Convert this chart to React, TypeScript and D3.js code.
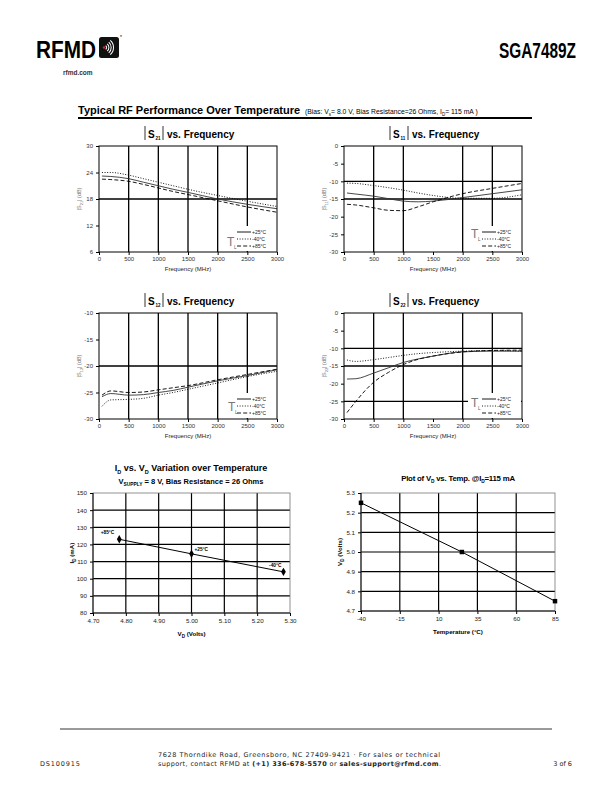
import React, { useRef, useEffect } from 'react';
import * as d3 from 'd3';

const FONT = '"Liberation Sans", Arial, sans-serif';

// S-parameter sweep (MHz) shared by every curve
const freqs = [50, 200, 500, 750, 1000, 1250, 1500, 2000, 2500, 3000];
const freqTicks = [0, 500, 1000, 1500, 2000, 2500, 3000];
const tempLabels = ['+25°C', '-40°C', '+85°C'];

const s21Plus25 = [23.2, 23.1, 22.6, 21.8, 21.0, 20.2, 19.5, 18.0, 16.8, 15.8];
const s21Minus40 = [24.0, 24.0, 23.4, 22.6, 21.8, 21.0, 20.2, 18.8, 17.5, 16.3];
const s21Plus85 = [22.5, 22.4, 22.0, 21.3, 20.5, 19.7, 19.0, 17.6, 16.2, 15.0];

const s11Plus25 = [-13.3, -13.6, -14.2, -14.9, -15.6, -15.8, -15.6, -14.6, -13.5, -12.4];
const s11Minus40 = [-10.5, -10.6, -11.2, -11.8, -12.5, -13.3, -14.0, -14.8, -14.8, -13.8];
const s11Plus85 = [-16.5, -16.7, -17.5, -18.2, -18.3, -17.2, -15.8, -13.5, -12.0, -10.6];

const s12Plus25 = [-25.8, -25.2, -25.5, -25.4, -25.0, -24.6, -24.0, -22.8, -21.8, -20.7];
const s12Minus40 = [-27.6, -26.4, -26.3, -26.1, -25.5, -25.0, -24.4, -23.2, -22.0, -21.0];
const s12Plus85 = [-25.5, -24.7, -25.0, -24.9, -24.5, -24.1, -23.7, -22.6, -21.6, -20.6];

const s22Plus25 = [-18.7, -18.6, -17.0, -15.5, -14.0, -13.0, -12.2, -11.0, -10.8, -10.8];
const s22Minus40 = [-13.3, -13.7, -13.2, -12.6, -12.0, -11.5, -11.2, -10.8, -10.6, -10.8];
const s22Plus85 = [-28.2, -25.0, -19.6, -16.8, -14.6, -13.1, -12.2, -11.0, -10.6, -10.5];

// ID vs VD
const vdVolts = [4.78, 5.0, 5.28];
const idMilliamps = [123, 114.5, 104];
const idPointLabels = ['+85°C', '+25°C', '-40°C'];
const vdTicks = [4.7, 4.8, 4.9, 5.0, 5.1, 5.2, 5.3];
const idTicks = [80, 90, 100, 110, 120, 130, 140, 150];

// VD vs temperature
const temps = [-40, 25, 85];
const vdAtTemp = [5.25, 5.0, 4.75];
const tempTicks = [-40, -15, 10, 35, 60, 85];
const vdTempTicks = [4.7, 4.8, 4.9, 5.0, 5.1, 5.2, 5.3];

const dashes = [null, '1,1.6', '4,2.2'];
const SW = 178, SH = 106;
const plain = d => String(d);

// text with subscripts: parts = [[text, isSub]]
const rich = (sel, parts, subSize) => {
  let down = false;
  parts.forEach(([t, sub]) => {
    const ts = sel.append('tspan').text(t);
    if (sub) {
      ts.attr('font-size', subSize);
      if (!down) { ts.attr('dy', subSize * 0.5); down = true; }
    } else if (down) {
      ts.attr('dy', -subSize * 0.5);
      down = false;
    }
  });
  return sel;
};

const styleAxis = (g, size, fill) => {
  g.select('.domain').remove();
  g.selectAll('line').attr('stroke', '#000');
  g.selectAll('text').attr('font-size', size).attr('font-family', FONT).attr('fill', fill);
};

const drawSChart = (svg, c) => {
  const g = svg.append('g');
  const x = d3.scaleLinear().domain([0, 3000]).range([c.x0, c.x0 + SW]);
  const y = d3.scaleLinear().domain(c.yDomain).range([c.y0 + SH, c.y0]);

  c.vGrid.forEach(v => g.append('line')
    .attr('x1', x(v)).attr('x2', x(v)).attr('y1', c.y0).attr('y2', c.y0 + SH)
    .attr('stroke', '#000').attr('stroke-width', 1.3));
  c.hGrid.forEach(v => g.append('line')
    .attr('x1', c.x0).attr('x2', c.x0 + SW).attr('y1', y(v)).attr('y2', y(v))
    .attr('stroke', '#000').attr('stroke-width', 1.3));

  g.append('g').attr('transform', `translate(${c.x0},0)`)
    .call(d3.axisLeft(y).tickValues(c.yTicks).tickFormat(plain).tickSize(3).tickPadding(3).tickSizeOuter(0))
    .call(a => styleAxis(a, 6, '#333'));
  g.append('g').attr('transform', `translate(0,${c.y0 + SH})`)
    .call(d3.axisBottom(x).tickValues(freqTicks).tickFormat(plain).tickSize(3).tickPadding(2).tickSizeOuter(0))
    .call(a => styleAxis(a, 6, '#333'));

  // legend box hides grid behind it
  g.append('rect').attr('x', c.x0 + 124).attr('y', c.y0 + 80).attr('width', SW - 125).attr('height', SH - 81)
    .attr('fill', '#fff');

  const line = d3.line().x((d, i) => x(freqs[i])).y(d => y(d)).curve(d3.curveMonotoneX);
  c.series.forEach((vals, i) => {
    g.append('path').datum(vals).attr('d', line).attr('fill', 'none')
      .attr('stroke', i === 0 ? '#333' : '#000').attr('stroke-width', 0.9)
      .attr('stroke-dasharray', dashes[i]);
  });

  g.append('rect').attr('x', c.x0).attr('y', c.y0).attr('width', SW).attr('height', SH)
    .attr('fill', 'none').attr('stroke', '#000').attr('stroke-width', 1);

  // legend
  const lg = g.append('g').attr('transform', `translate(${c.x0 + 126},${c.y0 + 86})`);
  lg.append('text').attr('x', c.tx).attr('y', c.ty).attr('font-size', 12).attr('font-family', FONT)
    .attr('fill', '#777').text('T');
  lg.append('text').attr('x', c.tx + 7).attr('y', c.ty + 3).attr('font-size', 4.5).attr('font-family', FONT)
    .attr('fill', '#555').text('L');
  tempLabels.forEach((t, i) => {
    lg.append('line').attr('x1', 12).attr('x2', 26).attr('y1', i * 7).attr('y2', i * 7)
      .attr('stroke', '#000').attr('stroke-width', 0.9).attr('stroke-dasharray', dashes[i]);
    lg.append('text').attr('x', 27).attr('y', i * 7 + 1.8).attr('font-size', 5).attr('font-family', FONT)
      .attr('fill', '#222').text(t);
  });

  // title |Sxx| vs. Frequency
  const cx = c.x0 + SW / 2;
  const ty = c.y0 - 8;
  [cx - 43, cx - 25].forEach(bx => g.append('line').attr('x1', bx).attr('x2', bx)
    .attr('y1', ty - 12).attr('y2', ty + 2).attr('stroke', '#000').attr('stroke-width', 0.8));
  g.append('text').attr('x', cx - 40).attr('y', ty).attr('font-size', 10).attr('font-weight', 'bold')
    .attr('font-family', FONT).text('S');
  g.append('text').attr('x', cx - 32.5).attr('y', ty + 2).attr('font-size', 4.5).attr('font-weight', 'bold')
    .attr('font-family', FONT).text(c.sub);
  g.append('text').attr('x', cx - 21).attr('y', ty).attr('font-size', 10).attr('font-weight', 'bold')
    .attr('font-family', FONT).text('vs. Frequency');

  // axis titles
  const yl = g.append('text').attr('transform', `translate(${c.x0 - 18},${c.y0 + SH / 2}) rotate(-90)`)
    .attr('text-anchor', 'middle').attr('font-size', 5.5).attr('font-family', FONT).attr('fill', '#777');
  rich(yl, [['|S', 0], [c.sub, 1], ['| (dB)', 0]], 4);
  g.append('text').attr('x', cx).attr('y', c.y0 + SH + 19).attr('text-anchor', 'middle')
    .attr('font-size', 6).attr('font-family', FONT).attr('fill', '#222').text('Frequency (MHz)');
};

const drawXY = (svg, c) => {
  const g = svg.append('g');
  const x = d3.scaleLinear().domain(c.xDomain).range([c.x0, c.x1]);
  const y = d3.scaleLinear().domain(c.yDomain).range([c.y1, c.y0]);

  c.xTicks.slice(1, -1).forEach(v => g.append('line')
    .attr('x1', x(v)).attr('x2', x(v)).attr('y1', c.y0).attr('y2', c.y1)
    .attr('stroke', '#000').attr('stroke-width', 1.2));
  c.yTicks.slice(1, -1).forEach(v => g.append('line')
    .attr('x1', c.x0).attr('x2', c.x1).attr('y1', y(v)).attr('y2', y(v))
    .attr('stroke', '#000').attr('stroke-width', 1.2));
  g.append('rect').attr('x', c.x0).attr('y', c.y0).attr('width', c.x1 - c.x0).attr('height', c.y1 - c.y0)
    .attr('fill', 'none').attr('stroke', '#777').attr('stroke-width', 0.8);

  g.append('g').attr('transform', `translate(${c.x0},0)`)
    .call(d3.axisLeft(y).tickValues(c.yTicks).tickFormat(c.yFmt).tickSize(3).tickPadding(3).tickSizeOuter(0))
    .call(a => styleAxis(a, 6.2, '#222'));
  g.append('g').attr('transform', `translate(0,${c.y1})`)
    .call(d3.axisBottom(x).tickValues(c.xTicks).tickFormat(c.xFmt).tickSize(3).tickPadding(3).tickSizeOuter(0))
    .call(a => styleAxis(a, 6.2, '#222'));
  g.append('line').attr('x1', c.x0).attr('x2', c.x0).attr('y1', c.y0).attr('y2', c.y1).attr('stroke', '#000');
  g.append('line').attr('x1', c.x0).attr('x2', c.x1).attr('y1', c.y1).attr('y2', c.y1).attr('stroke', '#000');

  const pts = c.xs.map((v, i) => [v, c.ys[i]]);
  g.append('path').datum(pts).attr('d', d3.line().x(d => x(d[0])).y(d => y(d[1])))
    .attr('fill', 'none').attr('stroke', '#000').attr('stroke-width', 1);
  pts.forEach(p => g.append('path').attr('d', d3.symbol(c.symbol, 20)())
    .attr('transform', `translate(${x(p[0])},${y(p[1])})`).attr('fill', '#000'));

  if (c.pointLabels) {
    pts.forEach((p, i) => g.append('text')
      .attr('x', x(p[0]) + c.labelOffsets[i][0]).attr('y', y(p[1]) + c.labelOffsets[i][1])
      .attr('text-anchor', c.labelOffsets[i][0] < 0 ? 'end' : 'start')
      .attr('font-size', 4.8).attr('font-weight', 'bold').attr('font-family', FONT).text(c.pointLabels[i]));
  }

  const yl = g.append('text')
    .attr('transform', `translate(${c.x0 - 19},${(c.y0 + c.y1) / 2}) rotate(-90)`)
    .attr('text-anchor', 'middle').attr('font-size', 6.2).attr('font-weight', 'bold').attr('font-family', FONT);
  rich(yl, c.yLabel, 4.5);
  const xl = g.append('text').attr('x', (c.x0 + c.x1) / 2).attr('y', c.y1 + 23).attr('text-anchor', 'middle')
    .attr('font-size', 6.2).attr('font-weight', 'bold').attr('font-family', FONT);
  rich(xl, c.xLabel, 4.5);
};

const drawPage = (svg) => {
  // header logo
  svg.append('text').attr('x', 36).attr('y', 58).attr('font-size', 24).attr('font-weight', 'bold')
    .attr('font-family', FONT).attr('textLength', 60).attr('lengthAdjust', 'spacingAndGlyphs').text('RFMD');
  svg.append('rect').attr('x', 99).attr('y', 37).attr('width', 20).attr('height', 21).attr('rx', 2.5).attr('fill', '#111');
  svg.append('circle').attr('cx', 104).attr('cy', 47.5).attr('r', 1.2).attr('fill', '#e2231a');
  [2.6, 4.9, 7.2, 9.5].forEach(r => svg.append('path')
    .attr('d', d3.arc()({ innerRadius: r - 0.5, outerRadius: r + 0.5, startAngle: Math.PI / 2 - 0.85, endAngle: Math.PI / 2 + 0.85 }))
    .attr('transform', 'translate(104,47.5)').attr('fill', '#fff'));
  svg.append('text').attr('x', 120).attr('y', 39).attr('font-size', 5).attr('font-family', FONT).text('*');
  svg.append('text').attr('x', 63).attr('y', 75).attr('font-size', 6.5).attr('font-weight', 'bold')
    .attr('font-family', FONT).attr('fill', '#333').text('rfmd.com');
  svg.append('text').attr('x', 576).attr('y', 58).attr('text-anchor', 'end').attr('font-size', 22)
    .attr('font-weight', 'bold').attr('font-family', FONT).attr('textLength', 77)
    .attr('lengthAdjust', 'spacingAndGlyphs').text('SGA7489Z');

  // section heading
  svg.append('text').attr('x', 78).attr('y', 114).attr('font-size', 11).attr('font-weight', 'bold')
    .attr('font-family', FONT).text('Typical RF Performance Over Temperature');
  const bias = svg.append('text').attr('x', 305).attr('y', 113.5).attr('font-size', 6.8)
    .attr('font-family', FONT);
  rich(bias, [['(Bias: V', 0], ['s', 1], ['= 8.0 V,  Bias Resistance=26 Ohms, I', 0], ['D', 1], ['= 115 mA )', 0]], 4.5);
  svg.append('line').attr('x1', 78).attr('x2', 532).attr('y1', 118).attr('y2', 118)
    .attr('stroke', '#000').attr('stroke-width', 2);

  drawSChart(svg, { x0: 99, y0: 146, sub: '21', yDomain: [6, 30], yTicks: [6, 12, 18, 24, 30],
    vGrid: [500, 1000, 1500, 2000, 2500], hGrid: [18], tx: 2, ty: 14,
    series: [s21Plus25, s21Minus40, s21Plus85] });
  drawSChart(svg, { x0: 344, y0: 146, sub: '11', yDomain: [-30, 0], yTicks: [-30, -25, -20, -15, -10, -5, 0],
    vGrid: [500, 1000, 2000, 2500], hGrid: [-10, -15], tx: 1, ty: 6,
    series: [s11Plus25, s11Minus40, s11Plus85] });
  drawSChart(svg, { x0: 99, y0: 313, sub: '12', yDomain: [-30, -10], yTicks: [-30, -25, -20, -15, -10],
    vGrid: [500, 1000, 1500, 2000, 2500], hGrid: [-20], tx: 3, ty: 12,
    series: [s12Plus25, s12Minus40, s12Plus85] });
  drawSChart(svg, { x0: 344, y0: 313, sub: '22', yDomain: [-30, 0], yTicks: [-30, -25, -20, -15, -10, -5, 0],
    vGrid: [500, 1000, 2000, 2500], hGrid: [-10, -15, -25], tx: 1, ty: 8,
    series: [s22Plus25, s22Minus40, s22Plus85] });

  // ID vs VD
  const t1 = svg.append('text').attr('x', 191).attr('y', 471).attr('text-anchor', 'middle').attr('font-size', 9)
    .attr('font-weight', 'bold').attr('font-family', FONT);
  rich(t1, [['I', 0], ['D', 1], [' vs. V', 0], ['D', 1], [' Variation over Temperature', 0]], 5.5);
  const t2 = svg.append('text').attr('x', 191).attr('y', 484).attr('text-anchor', 'middle').attr('font-size', 7.5)
    .attr('font-weight', 'bold').attr('font-family', FONT);
  rich(t2, [['V', 0], ['SUPPLY', 1], [' = 8 V, Bias Resistance = 26 Ohms', 0]], 4.8);
  drawXY(svg, { x0: 93, x1: 290, y0: 493, y1: 613, xDomain: [4.7, 5.3], yDomain: [80, 150],
    xTicks: vdTicks, yTicks: idTicks, xFmt: d3.format('.2f'), yFmt: plain,
    xs: vdVolts, ys: idMilliamps, symbol: d3.symbolDiamond,
    pointLabels: idPointLabels, labelOffsets: [[-5, -5], [3, -3], [-2, -5]],
    yLabel: [['I', 0], ['D', 1], [' (mA)', 0]], xLabel: [['V', 0], ['D', 1], [' (Volts)', 0]] });

  // VD vs temperature
  const t3 = svg.append('text').attr('x', 458).attr('y', 481).attr('text-anchor', 'middle').attr('font-size', 7.8)
    .attr('font-weight', 'bold').attr('font-family', FONT).attr('letter-spacing', -0.2);
  rich(t3, [['Plot of V', 0], ['D', 1], [' vs. Temp. @I', 0], ['D', 1], ['=115 mA', 0]], 4.8);
  drawXY(svg, { x0: 361, x1: 555, y0: 493, y1: 611, xDomain: [-40, 85], yDomain: [4.7, 5.3],
    xTicks: tempTicks, yTicks: vdTempTicks, xFmt: plain, yFmt: d3.format('.1f'),
    xs: temps, ys: vdAtTemp, symbol: d3.symbolSquare,
    yLabel: [['V', 0], ['D', 1], [' (Volts)', 0]], xLabel: [['Temperature (°C)', 0]] });

  // footer
  svg.append('line').attr('x1', 60).attr('x2', 552).attr('y1', 729).attr('y2', 729)
    .attr('stroke', '#000').attr('stroke-width', 0.8);
  const foot = (x, y, anchor) => svg.append('text').attr('x', x).attr('y', y).attr('text-anchor', anchor)
    .attr('font-size', 6.5).attr('font-family', '"DejaVu Sans", sans-serif').attr('fill', '#222');
  foot(40, 766, 'start').attr('textLength', 40).text('DS100915');
  foot(158, 757, 'start').attr('textLength', 282)
    .text('7628 Thorndike Road, Greensboro, NC  27409-9421 · For sales or technical');
  const l2 = foot(158, 766, 'start').attr('textLength', 283);
  l2.append('tspan').text('support, contact RFMD at ');
  l2.append('tspan').attr('font-weight', 'bold').text('(+1) 336-678-5570');
  l2.append('tspan').text(' or ');
  l2.append('tspan').attr('font-weight', 'bold').text('sales-support@rfmd.com');
  l2.append('tspan').text('.');
  foot(572, 766, 'end').text('3 of 6');
};

const App = () => {
  const chartRef = useRef(null);

  useEffect(() => {
    if (chartRef.current) {
      const svg = d3.select(chartRef.current);
      svg.selectAll('*').remove();
      drawPage(svg);
    }
  }, []);

  return (
    <svg ref={chartRef} width="612" height="792"
      style={{ position: 'absolute', left: 0, top: 0, background: '#fff' }}></svg>
  );
};

export default App;
